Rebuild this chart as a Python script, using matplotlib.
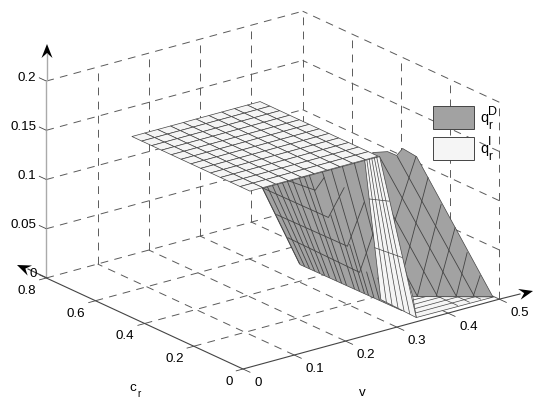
#!/usr/bin/env python3
import numpy as np
import matplotlib
matplotlib.use("Agg")
import matplotlib.pyplot as plt
from matplotlib.patches import Polygon, Rectangle
from mpl_toolkits.mplot3d import proj3d
from mpl_toolkits.mplot3d.art3d import Poly3DCollection

plt.rcParams["font.family"] = ["Liberation Sans", "DejaVu Sans"]

GRAY = "#a2a2a2"
LIGHT = "#f5f5f5"
EDGE = "#444444"
GRID = "#5a5a5a"

v_ticks = [0, 0.1, 0.2, 0.3, 0.4, 0.5]
c_ticks = [0, 0.2, 0.4, 0.6, 0.8]
z_ticks = [0, 0.05, 0.1, 0.15, 0.2]
v_labels = ["0", "0.1", "0.2", "0.3", "0.4", "0.5"]
c_labels = ["0", "0.2", "0.4", "0.6", "0.8"]
z_labels = ["0", "0.05", "0.1", "0.15", "0.2"]

# flat part of the surface
plate_v = [0.167, 0.192, 0.217, 0.242, 0.267, 0.292, 0.317, 0.342, 0.367, 0.392, 0.417]
plate_c = [0.32, 0.36, 0.40, 0.44, 0.48, 0.52, 0.56, 0.60, 0.64, 0.68, 0.72, 0.76, 0.80]
plate_z = 0.12

# left sloping sheet: corners (v, c, z) top-left, top-right, bottom-left, bottom-right
left_corners = [(0.191, 0.32, 0.12), (0.39, 0.32, 0.12), (0.191, 0.168, 0.06), (0.3507, 0.087, 0.0)]
left_dense = [0, 5, 10, 15, 20, 25, 30, 37, 42, 47]
left_coarse = [60, 69, 80, 92]
left_extra_s = [55, 65, 74.5, 85, 97]
left_extra_w = [0.36, 0.60, 0.80, 0.82, 0.80]
left_zig_s = [[26, 47.8, 60.2], [0, 51.8, 76.3], [1, 62, 91.8], [1, 66.6, 95]]
left_zig_w = [[0.0, 0.14, 0.05], [0.0, 0.385, 0.155], [0.35, 0.622, 0.275], [0.65, 0.825, 0.465]]
LEFT_WIDTH = 102

# light strip
strip_corners = [(0.39, 0.32, 0.12), (0.4184, 0.3186, 0.12), (0.3541, 0.1797, 0.0), (0.35, 0.027, 0.0)]
strip_long = [0.17, 0.33, 0.5, 0.67, 0.83]
strip_cross = [0.28, 0.63]

# right sloping sheet outline
right_v = [0.4114, 0.4303, 0.4397, 0.45, 0.4637, 0.4993, 0.4012]
right_c = [0.3324, 0.3109, 0.294, 0.2911, 0.2627, 0.0272, 0.148]
right_z = [0.1236, 0.1243, 0.121, 0.127, 0.12, 0.0, 0.0]

# right sheet mesh lines: start and end (v, c, z)
right_lines = [
    [(0.4404, 0.2914, 0.12), (0.4772, 0.0544, 0.0)],
    [(0.4184, 0.3186, 0.12), (0.4552, 0.0816, 0.0)],
    [(0.4101, 0.2523, 0.072), (0.4319, 0.1102, 0.0)],
    [(0.4028, 0.1716, 0.0163), (0.4074, 0.1404, 0.0)],
    [(0.4637, 0.2627, 0.12), (0.4096, 0.2388, 0.0634)],
    [(0.4697, 0.2263, 0.102), (0.4033, 0.1849, 0.0249)],
    [(0.4746, 0.1834, 0.0789), (0.4074, 0.1404, 0.0)],
    [(0.4822, 0.1424, 0.0591), (0.4306, 0.1118, 0.0)],
    [(0.4867, 0.1027, 0.0377), (0.4552, 0.0816, 0.0)],
    [(0.493, 0.0631, 0.018), (0.476, 0.0559, 0.0)],
]

# flat base near the front corner
base_v = [0.4012, 0.5, 0.35]
base_c = [0.148, 0.0242, 0.027]
base_rows_c = [0.05, 0.075, 0.10, 0.125]
base_rows_v = [0.48, 0.46, 0.44, 0.42]
base_cols_v = [0.4319, 0.4552, 0.4772]
base_cols_c = [0.1102, 0.0816, 0.0544]


def sheet_point(corners, s, w):
    p = np.array(corners, dtype=float)
    return (1 - w) * ((1 - s) * p[0] + s * p[1]) + w * ((1 - s) * p[2] + s * p[3])


fig = plt.figure(figsize=(5.5, 4.14), dpi=100)
ax = fig.add_axes([0, 0, 414 / 550, 1], projection="3d", proj_type="ortho", computed_zorder=False)
ax.set_xlim(0, 0.5)
ax.set_ylim(0, 0.8)
ax.set_zlim(0, 0.2)
ax.set_box_aspect((1, 1, 0.652))
ax.view_init(elev=20.8, azim=-127.5)
ax.set_axis_off()

# fit the box on the canvas: v=0,c=0 at (243,370), 453 px wide
ax.apply_aspect()
M = ax.get_proj()
corners_px = []
for p in [(0, 0, 0), (0.5, 0, 0), (0, 0.8, 0)]:
    x, y, _ = proj3d.proj_transform(*p, M)
    corners_px.append(ax.transData.transform((x, y)))
f = 453 / (corners_px[1][0] - corners_px[2][0])
left = 243 - f * corners_px[0][0]
bottom = 44 - f * corners_px[0][1]
ax.set_position([left / 550, bottom / 414, f * 414 / 550, f])
ax.apply_aspect()


def line3(vs, cs, zs, color=EDGE, lw=0.6, zorder=2, **kw):
    ax.plot(vs, cs, zs, color=color, lw=lw, zorder=zorder, solid_capstyle="butt", **kw)


dash = dict(color=GRID, lw=0.7, linestyle=(0, (8, 6.5)), zorder=1)
v_end, c_end, z_end = v_ticks[-1], c_ticks[-1], z_ticks[-1]
# floor
for v in v_ticks[1:]:
    line3([v, v], [0, c_end], [0, 0], **dash)
for c in c_ticks[1:]:
    line3([0, v_end], [c, c], [0, 0], **dash)
# back walls
for z in z_ticks[1:]:
    line3([0, v_end], [c_end, c_end], [z, z], **dash)
    line3([v_end, v_end], [0, c_end], [z, z], **dash)
for v in v_ticks[1:]:
    line3([v, v], [c_end, c_end], [0, z_end], **dash)
for c in c_ticks[:-1]:
    line3([v_end, v_end], [c, c], [0, z_end], **dash)

# axes lines and tick marks
line3([0, v_end], [0, 0], [0, 0], lw=0.8, zorder=3)
line3([0, 0], [0, c_end], [0, 0], lw=0.8, zorder=3)
line3([0, 0], [c_end, c_end], [0, z_end], color="#aaaaaa", lw=1.0, zorder=3)
for v in v_ticks:
    line3([v, v], [0, -0.03], [0, 0], zorder=3)
for c in c_ticks:
    line3([0, -0.014], [c, c], [0, 0], zorder=3)
for z in z_ticks:
    line3([0, 0], [c_end, c_end + 0.03], [z, z], zorder=3)

# base
base = Poly3DCollection([list(zip(base_v, base_c, [0, 0, 0]))], facecolors=LIGHT, edgecolors=EDGE,
                        linewidths=0.5, zorder=4)
ax.add_collection3d(base)
for c, v in zip(base_rows_c, base_rows_v):
    line3([0.35, v], [c, c], [0, 0], lw=0.5, zorder=5)
for v, c in zip(base_cols_v, base_cols_c):
    line3([v, v], [c, 0.027], [0, 0], lw=0.5, zorder=5)

# right sheet
right = Poly3DCollection([list(zip(right_v, right_c, right_z))], facecolors=GRAY, edgecolors=EDGE,
                         linewidths=0.5, zorder=6)
ax.add_collection3d(right)
for a, b in right_lines:
    line3([a[0], b[0]], [a[1], b[1]], [a[2], b[2]], zorder=7)

# left sheet
lc = left_corners
sheet = Poly3DCollection([[lc[0], lc[1], lc[3], lc[2]]], facecolors=GRAY, edgecolors=EDGE,
                         linewidths=0.5, zorder=8)
ax.add_collection3d(sheet)
for s in left_dense + left_coarse:
    a = sheet_point(lc, s / LEFT_WIDTH, 0)
    b = sheet_point(lc, s / LEFT_WIDTH, 1)
    line3([a[0], b[0]], [a[1], b[1]], [a[2], b[2]], zorder=9)
for s, w in zip(left_extra_s, left_extra_w):
    a = sheet_point(lc, s / LEFT_WIDTH, w)
    b = sheet_point(lc, s / LEFT_WIDTH, 1)
    line3([a[0], b[0]], [a[1], b[1]], [a[2], b[2]], zorder=9)
for ss, ws in zip(left_zig_s, left_zig_w):
    pts = np.array([sheet_point(lc, s / LEFT_WIDTH, w) for s, w in zip(ss, ws)])
    line3(pts[:, 0], pts[:, 1], pts[:, 2], zorder=9)

# strip
sc = strip_corners
strip = Poly3DCollection([[sc[0], sc[1], sc[3], sc[2]]], facecolors=LIGHT, edgecolors=EDGE,
                         linewidths=0.5, zorder=10)
ax.add_collection3d(strip)
for s in strip_long:
    a = sheet_point(sc, s, 0)
    b = sheet_point(sc, s, 1)
    line3([a[0], b[0]], [a[1], b[1]], [a[2], b[2]], lw=0.5, zorder=11)
for w in strip_cross:
    a = sheet_point(sc, 0, w)
    b = sheet_point(sc, 1, w)
    line3([a[0], b[0]], [a[1], b[1]], [a[2], b[2]], lw=0.5, zorder=11)

# plate
V, C = np.meshgrid(plate_v, plate_c)
Z = np.full(V.shape, plate_z)
ax.plot_surface(V, C, Z, rstride=1, cstride=1, color=LIGHT, edgecolor=EDGE, linewidth=0.5,
                shade=False, zorder=12)

# overlay in pixels for labels, arrows and legend
ov = fig.add_axes([0, 0, 1, 1], zorder=5)
ov.set_xlim(0, 550)
ov.set_ylim(414, 0)
ov.axis("off")
ov.patch.set_visible(False)


def to_overlay(v, c, z):
    x, y, _ = proj3d.proj_transform(v, c, z, ax.get_proj())
    return ov.transData.inverted().transform(ax.transData.transform((x, y)))


# tick labels
FS = 9.6
for v, t in zip(v_ticks, v_labels):
    ov.text(*to_overlay(v, -0.045, -0.008), t, ha="left", va="center", fontsize=FS)
for c, t in zip(c_ticks, c_labels):
    ov.text(*to_overlay(-0.02, c, -0.0093), t, ha="right", va="center", fontsize=FS)
for z, t in zip(z_ticks, z_labels):
    ov.text(*to_overlay(0, 0.84, z), t, ha="right", va="center", fontsize=FS)


def arrow_head(tip, tail, length=14, half=5.5):
    tip = np.array(tip, dtype=float)
    d = tip - np.array(tail, dtype=float)
    d /= np.linalg.norm(d)
    n = np.array([-d[1], d[0]])
    pts = [tip, tip - length * d + half * n, tip - 0.65 * length * d, tip - length * d - half * n]
    ov.add_patch(Polygon(pts, closed=True, facecolor="k", edgecolor="none"))


ov.plot([47, 47], [81, 55], color="#aaaaaa", lw=1.0)
ov.plot([500, 520], [300, 295], color=EDGE, lw=0.8)
ov.plot([47, 28], [279, 270], color=EDGE, lw=0.8)
arrow_head((47, 45), (47, 81))
arrow_head((533, 292), (500, 300))
arrow_head((17, 266), (47, 279))

ov.text(362, 393, "v", ha="center", va="center", fontsize=FS)
ov.text(133, 388, "c", ha="center", va="center", fontsize=FS)
ov.text(139.5, 394, "r", ha="center", va="center", fontsize=7.2)

ov.add_patch(Rectangle((433, 107), 41, 23, facecolor=GRAY, edgecolor=EDGE, lw=0.7))
ov.add_patch(Rectangle((433, 137.5), 41, 23, facecolor=LIGHT, edgecolor=EDGE, lw=0.7))
ov.text(480, 118, "q", ha="left", va="center", fontsize=10.5)
ov.text(488, 112, "D", ha="left", va="center", fontsize=9)
ov.text(488.5, 126, "r", ha="left", va="center", fontsize=8.5)
ov.text(480, 149, "q", ha="left", va="center", fontsize=10.5)
ov.text(488, 142, "I", ha="left", va="center", fontsize=9)
ov.text(488.5, 157, "r", ha="left", va="center", fontsize=8.5)

fig.savefig("out.png", dpi=100)
